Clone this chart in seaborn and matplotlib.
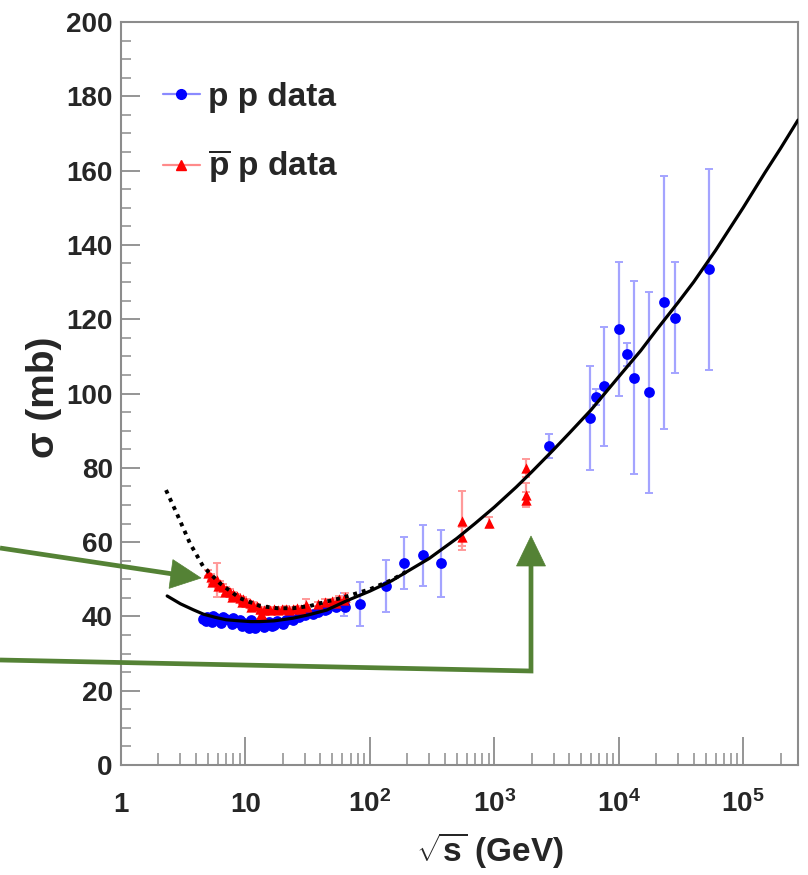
import matplotlib
matplotlib.use("Agg")
import matplotlib.pyplot as plt
from matplotlib.lines import Line2D
from matplotlib.patches import Polygon
from matplotlib.ticker import MultipleLocator, LogLocator, NullFormatter
import numpy as np
import seaborn as sns

# ---- p p total cross section (sqrt(s) in GeV, sigma in mb, error in mb) ----
pp_sqrts = [4.6, 4.9, 5.2, 5.5, 5.8, 6.2, 6.6, 7.0, 7.5, 8.0, 8.5, 9.0, 9.7, 10.3,
            11.0, 11.5, 12.3, 13.0, 13.8, 14.7, 15.5, 16.5, 18.0, 19.5, 21.0, 23.0,
            24.0, 27.0, 30.0, 35.0, 38.0, 44.0, 45.0, 53.0, 53.0, 62.0, 63.0,
            4.8, 5.4, 6.4, 7.8, 9.3, 10.7, 12.0, 14.2, 17.0, 20.0,
            84.0, 134.0, 188.0, 265.0, 370.0, 2750.0, 5850.0, 6540.0, 7620.0,
            10070.0, 11660.0, 13200.0, 17400.0, 23100.0, 28200.0, 53100.0]
pp_sigma = [39.4, 39.9, 39.2, 40.1, 39.6, 39.0, 39.8, 39.3, 38.9, 39.6, 38.5, 39.1,
            38.2, 37.6, 38.9, 37.2, 38.0, 38.6, 37.8, 38.2, 38.4, 37.4, 38.8, 38.2,
            38.9, 39.5, 39.1, 39.9, 40.3, 40.6, 41.3, 41.8, 41.9, 42.5, 42.9, 43.2,
            42.6,
            38.7, 38.5, 38.3, 38.0, 37.5, 36.8, 37.0, 37.1, 37.6, 38.0,
            43.3, 48.3, 54.3, 56.5, 54.3, 85.9, 93.3, 99.1, 102.0, 117.4,
            110.6, 104.3, 100.3, 124.5, 120.4, 133.4]
pp_err = [0.4, 0.4, 0.4, 0.4, 0.4, 0.4, 0.4, 0.4, 0.4, 0.4, 0.4, 0.4, 0.4, 0.4,
          0.4, 0.4, 0.4, 0.4, 0.4, 0.4, 0.4, 0.4, 0.4, 0.4, 0.4, 0.4, 0.4, 0.4,
          0.4, 0.5, 0.5, 0.6, 0.6, 0.7, 0.7, 3.0, 1.0,
          0.4, 0.4, 0.4, 0.4, 0.4, 0.4, 0.4, 0.4, 0.4, 0.4,
          6.0, 7.0, 7.0, 8.2, 9.0,
          3.2, 14.0, 2.2, 16.0, 18.0, 3.1, 26.0, 27.0, 34.0, 15.0, 27.0]

# ---- pbar p total cross section ----
ppbar_sqrts = [5.0, 5.3, 5.6, 5.9, 6.2, 6.6, 7.0, 7.5, 8.0, 8.5, 9.0, 9.6, 10.2,
               10.9, 11.6, 12.4, 13.2, 13.2, 13.5, 14.0, 14.8, 15.8, 17.0, 18.2,
               19.5, 21.0, 22.5, 24.0, 26.0, 28.0, 30.5, 31.0, 38.0, 44.0, 50.0,
               53.0, 56.0, 62.0, 63.0,
               5.4, 6.0, 6.9, 7.8, 9.3, 11.0,
               546.0, 546.0, 900.0, 1800.0, 1800.0, 1800.0]
ppbar_sigma = [51.8, 50.6, 49.9, 49.8, 48.7, 47.9, 47.2, 46.6, 45.9, 45.5, 45.0,
               44.6, 44.0, 43.6, 43.2, 42.7, 41.9, 40.0, 40.3, 41.6, 42.0, 41.8,
               41.9, 41.7, 41.9, 42.1, 41.8, 42.0, 42.2, 41.9, 43.0, 42.5, 43.4,
               43.9, 44.1, 43.5, 44.8, 44.4, 45.3,
               49.3, 48.3, 46.5, 45.2, 44.0, 42.6,
               65.8, 61.5, 65.2, 80.0, 72.8, 71.4]
ppbar_err = [0.8, 0.8, 0.8, 4.7, 0.8, 0.8, 0.7, 0.7, 0.7, 0.6, 0.6, 0.6, 0.6,
             0.6, 0.6, 0.6, 0.6, 0.6, 0.6, 0.6, 0.6, 0.6, 0.6, 0.6, 0.6, 0.6,
             0.6, 0.6, 0.6, 0.6, 1.8, 0.6, 0.6, 0.7, 0.7, 1.5, 0.8, 0.8, 1.0,
             0.7, 0.7, 0.7, 0.6, 0.6, 0.6,
             8.0, 2.5, 1.5, 2.5, 3.0, 2.0]

# ---- global fits ----
fit_pp_sqrts = [2.35, 3.0, 3.8, 4.6, 5.8, 7.0, 9.0, 11.0, 13.0, 17.0, 24.0, 32.0,
                45.0, 65.0, 100.0, 150.0, 200.0, 300.0, 500.0, 700.0, 1000.0,
                1500.0, 2000.0, 3000.0, 4000.0, 6000.0, 1.0e4, 1.5e4, 2.0e4,
                3.0e4, 4.0e4, 6.0e4, 1.0e5, 1.5e5, 2.0e5, 2.76e5]
fit_pp_sigma = [45.5, 43.4, 41.8, 40.6, 39.7, 39.1, 38.8, 38.6, 38.6, 38.8, 39.5,
                40.4, 41.7, 44.2, 46.8, 49.6, 52.1, 55.6, 61.0, 65.0, 69.4, 74.8,
                78.9, 84.9, 89.3, 95.6, 104.5, 111.5, 117.0, 124.5, 130.0, 138.5,
                150.0, 159.5, 166.0, 173.6]
fit_ppbar_sqrts = [2.3, 2.8, 3.58, 4.58, 6.24, 9.03, 13.1, 18.0, 24.2, 33.0, 44.9,
                   60.0, 78.0, 100.0, 150.0, 200.0]
fit_ppbar_sigma = [74.0, 67.8, 59.7, 53.4, 48.9, 44.9, 42.8, 42.2, 42.2, 42.8,
                   44.0, 45.0, 46.2, 47.3, 49.8, 52.2]

legend_labels = ["p p data", r"$\overline{\mathrm{p}}$ p data"]
x_tick_values = [1, 10, 100, 1e3, 1e4, 1e5]
x_tick_labels = ["1", "10", r"$10^{2}$", r"$10^{3}$", r"$10^{4}$", r"$10^{5}$"]

sns.set_theme(style="ticks")
plt.rcParams["font.family"] = ["Liberation Sans", "DejaVu Sans"]
plt.rcParams["font.weight"] = "bold"
plt.rcParams["mathtext.fontset"] = "custom"
plt.rcParams["mathtext.rm"] = "Liberation Sans:bold"
plt.rcParams["mathtext.it"] = "Liberation Sans:bold"
plt.rcParams["mathtext.bf"] = "Liberation Sans:bold"
plt.rcParams["mathtext.sf"] = "Liberation Sans:bold"

W, H = 808, 875
fig = plt.figure(figsize=(W / 100, H / 100), dpi=100)
ax = fig.add_axes([121 / W, 1 - 765 / H, (798 - 121) / W, (765 - 22) / H])
ax.set_xscale("log")
ax.set_xlim(1, 2.76e5)
ax.set_ylim(0, 200)

BLUE, BLUE_ERR = "#0000ff", "#a4a4ff"
RED, RED_ERR = "#ff0000", "#ff9a9a"

ax.errorbar(pp_sqrts, pp_sigma, yerr=pp_err, fmt="none", ecolor=BLUE_ERR,
            elinewidth=1.6, capsize=3, capthick=1.4, zorder=2)
ax.errorbar(ppbar_sqrts, ppbar_sigma, yerr=ppbar_err, fmt="none", ecolor=RED_ERR,
            elinewidth=1.6, capsize=3, capthick=1.4, zorder=2)
sns.scatterplot(x=pp_sqrts, y=pp_sigma, marker="o", s=60, color=BLUE,
                linewidth=0, ax=ax, zorder=3, legend=False)
sns.scatterplot(x=ppbar_sqrts, y=ppbar_sigma, marker="^", s=55, color=RED,
                linewidth=0, ax=ax, zorder=3, legend=False)
sns.lineplot(x=fit_ppbar_sqrts, y=fit_ppbar_sigma, color="black", lw=2.8,
             linestyle=(0, (1.0, 1.3)), sort=False, estimator=None, ax=ax, zorder=4)
sns.lineplot(x=fit_pp_sqrts, y=fit_pp_sigma, color="black", lw=2.3,
             sort=False, estimator=None, ax=ax, zorder=5)

# frame and ticks
for side in ["left", "bottom", "top", "right"]:
    ax.spines[side].set_visible(True)
    ax.spines[side].set_color("#8c8c8c")
    ax.spines[side].set_linewidth(1.5)
ax.yaxis.set_major_locator(MultipleLocator(20))
ax.yaxis.set_minor_locator(MultipleLocator(5))
ax.xaxis.set_major_locator(LogLocator(base=10, numticks=20))
ax.xaxis.set_minor_locator(LogLocator(base=10, subs=np.arange(2, 10), numticks=20))
ax.xaxis.set_minor_formatter(NullFormatter())
ax.set_xticks(x_tick_values, x_tick_labels)
ax.tick_params(axis="y", which="major", direction="in", length=14, width=1.3,
               color="#8c8c8c", labelsize=20, pad=6)
ax.tick_params(axis="y", which="minor", direction="in", length=7, width=1.1,
               color="#8c8c8c")
ax.tick_params(axis="x", which="major", direction="in", length=20, width=1.3,
               color="#8c8c8c", labelsize=20, pad=34)
ax.tick_params(axis="x", which="minor", direction="in", length=9, width=1.1,
               color="#8c8c8c")
for lbl in ax.get_xticklabels():
    lbl.set_verticalalignment("baseline")
for lbl in ax.get_yticklabels() + ax.get_xticklabels():
    lbl.set_fontweight("bold")

ax.set_xlabel(r"$\sqrt{s}$ (GeV)", fontsize=24, fontweight="bold")
ax.xaxis.label.set_verticalalignment("center")
ax.xaxis.set_label_coords((490 - 121) / 677, (765 - 850) / 743)
ax.set_ylabel("σ (mb)", fontsize=28, fontweight="bold")
ax.yaxis.label.set_verticalalignment("center")
ax.yaxis.set_label_coords((44 - 121) / 677, (765 - 397) / 743)

# legend
handles = [
    Line2D([], [], color="#8a8aff", lw=1.6, marker="o", markersize=7,
           markerfacecolor=BLUE, markeredgecolor=BLUE),
    Line2D([], [], color="#ff8a8a", lw=1.6, marker="^", markersize=7,
           markerfacecolor=RED, markeredgecolor=RED),
]
ax.legend(handles, legend_labels, loc="upper left",
          bbox_to_anchor=((163 - 121) / 677, (765 - 82) / 743),
          frameon=False, handlelength=1.1, handletextpad=0.25,
          labelspacing=1.05, borderpad=0, borderaxespad=0,
          prop={"weight": "bold", "size": 24})

# green pointer arrows (figure pixel coordinates)
GREEN = "#548235"


def px(x, y):
    return x / W, 1 - y / H


def arrow_head(tip, base_center, width):
    tx, ty = tip
    bx, by = base_center
    dx, dy = tx - bx, ty - by
    n = np.hypot(dx, dy)
    nx, ny = -dy / n * width / 2, dx / n * width / 2
    pts = [px(tx, ty), px(bx + nx, by + ny), px(bx - nx, by - ny)]
    fig.patches.append(Polygon(pts, closed=True, transform=fig.transFigure,
                               facecolor=GREEN, edgecolor=GREEN, lw=0.5, zorder=10))


def shaft(points):
    xs, ys = zip(*[px(x, y) for x, y in points])
    fig.lines.append(Line2D(xs, ys, transform=fig.transFigure, color=GREEN,
                            lw=3.4, solid_capstyle="butt", solid_joinstyle="miter",
                            zorder=10))


shaft([(0, 548), (173, 574)])
arrow_head((201, 578), (171, 574), 29)
shaft([(0, 660), (531, 671), (531, 564)])
arrow_head((531, 536), (531, 566), 29)

fig.savefig("out.png", dpi=100)
